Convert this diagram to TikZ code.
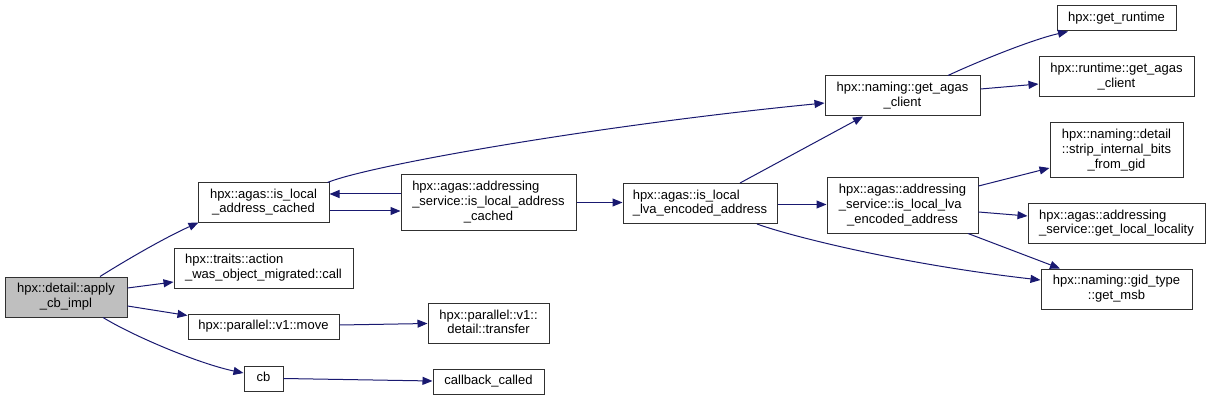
\documentclass[tikz,border=0pt]{standalone}
\usepackage{fontspec}
\setmainfont{Liberation Sans}
\usetikzlibrary{arrows.meta}
\definecolor{edgeblue}{HTML}{191970}
\definecolor{boxline}{HTML}{303030}
\definecolor{rootfill}{HTML}{BFBFBF}
\newcommand{\lineA}[1]{\begin{tabular}{@{}c@{}}#1\end{tabular}}
\newcommand{\lineB}[2]{\begin{tabular}{@{}l@{}}#1\\\multicolumn{1}{@{}c@{}}{#2}\end{tabular}}
\newcommand{\lineC}[3]{\begin{tabular}{@{}l@{}}#1\\#2\\\multicolumn{1}{@{}c@{}}{#3}\end{tabular}}
\begin{document}
\begin{tikzpicture}[x=1pt,y=-1pt,
  fnbox/.style={draw=boxline,line width=1pt,fill=white,inner sep=0pt,
    font=\fontsize{13}{14.7}\selectfont},
  calls/.style={draw=edgeblue,line width=1pt,
    -{Triangle[length=10pt,width=8pt]},color=edgeblue}]
\useasboundingbox (0,0) rectangle (1211,401);
% nodes
\node[fnbox,fill=rootfill,minimum width=122pt,minimum height=40pt] (apply) at (66,297) {\lineB{hpx::detail::apply}{\_cb\_impl}};
\node[fnbox,minimum width=131pt,minimum height=39pt] (isloc) at (263.5,202.5) {\lineB{hpx::agas::is\_local}{\_address\_cached}};
\node[fnbox,minimum width=179pt,minimum height=40pt] (traits) at (263.5,268) {\lineB{hpx::traits::action}{\_was\_object\_migrated::call}};
\node[fnbox,minimum width=151pt,minimum height=25pt] (move) at (263.5,326.5) {\lineA{hpx::parallel::v1::move}};
\node[fnbox,minimum width=39pt,minimum height=25pt] (cb) at (263.5,378.5) {\lineA{cb}};
\node[fnbox,minimum width=175pt,minimum height=55pt] (asilac) at (488.5,202.5) {\lineC{hpx::agas::addressing}{\_service::is\_local\_address}{\_cached}};
\node[fnbox,minimum width=121pt,minimum height=40pt] (transfer) at (488.5,323.5) {\lineB{hpx::parallel::v1::}{detail::transfer}};
\node[fnbox,minimum width=111pt,minimum height=25pt] (cbcalled) at (488.5,382) {\lineA{callback\_called}};
\node[fnbox,minimum width=154pt,minimum height=40pt] (lva) at (700,203.5) {\lineB{hpx::agas::is\_local}{\_lva\_encoded\_address}};
\node[fnbox,minimum width=155pt,minimum height=40pt] (getagas) at (902.5,96) {\lineB{hpx::naming::get\_agas}{\_client}};
\node[fnbox,minimum width=151pt,minimum height=55pt] (aslva) at (902.5,205.5) {\lineC{hpx::agas::addressing}{\_service::is\_local\_lva}{\_encoded\_address}};
\node[fnbox,minimum width=119pt,minimum height=25pt] (getrt) at (1116.5,18.5) {\lineA{hpx::get\_runtime}};
\node[fnbox,minimum width=155pt,minimum height=40pt] (rtagas) at (1116.5,77) {\lineB{hpx::runtime::get\_agas}{\_client}};
\node[fnbox,minimum width=133pt,minimum height=55pt] (strip) at (1116.5,150.5) {\lineC{hpx::naming::detail}{::strip\_internal\_bits}{\_from\_gid}};
\node[fnbox,minimum width=177pt,minimum height=40pt] (locality) at (1116.5,223.5) {\lineB{hpx::agas::addressing}{\_service::get\_local\_locality}};
\node[fnbox,minimum width=151pt,minimum height=40pt] (msb) at (1116.5,289) {\lineB{hpx::naming::gid\_type}{::get\_msb}};
% edges
\draw[calls] ([xshift=34pt]apply.north) .. controls (120,264) and (160,240) .. ([xshift=1pt]isloc.south west);
\draw[calls] ([yshift=9pt]apply.east) -- ([yshift=-14pt]traits.west);
\draw[calls] ([yshift=-9pt]apply.east) -- ([yshift=11pt]move.west);
\draw[calls] ([xshift=37pt]apply.south) .. controls (135,337) and (200,364) .. ([yshift=5.5pt]cb.west);
\draw[calls] ([yshift=-8.5pt]isloc.east) -- ([yshift=-8.5pt]asilac.west);
\draw[calls] ([yshift=8.5pt]asilac.west) -- ([yshift=8.5pt]isloc.east);
\draw[calls] ([xshift=-2pt]isloc.north east) .. controls (370,165) and (600,125) .. ([yshift=-7pt]getagas.west);
\draw[calls] (asilac.east) -- (asilac.east -| lva.west);
\draw[calls] ([xshift=40pt]lva.north) -- ([xshift=-39.5pt]getagas.south);
\draw[calls] ([yshift=-1pt]lva.east) -- ([yshift=-1pt]lva.east -| aslva.west);
\draw[calls] ([xshift=57pt]lva.south) .. controls (790,236) and (900,264) .. ([yshift=9pt]msb.west);
\draw[calls] ([yshift=19.5pt]aslva.east) -- ([yshift=-17.5pt]strip.west);
\draw[calls] ([yshift=-6.5pt]aslva.east) -- ([yshift=7.5pt]locality.west);
\draw[calls] ([xshift=65.5pt]aslva.south) -- ([xshift=-56.5pt]msb.north);
\draw[calls] ([xshift=45.5pt]getagas.north) .. controls (970,65) and (1030,40) .. ([xshift=-48.5pt]getrt.south);
\draw[calls] ([yshift=7pt]getagas.east) -- ([yshift=-7pt]rtagas.west);
\draw[calls] ([yshift=1.5pt]move.east) -- (transfer.west);
\draw[calls] (cb.east) -- ([yshift=1pt]cbcalled.west);
\end{tikzpicture}
\end{document}
